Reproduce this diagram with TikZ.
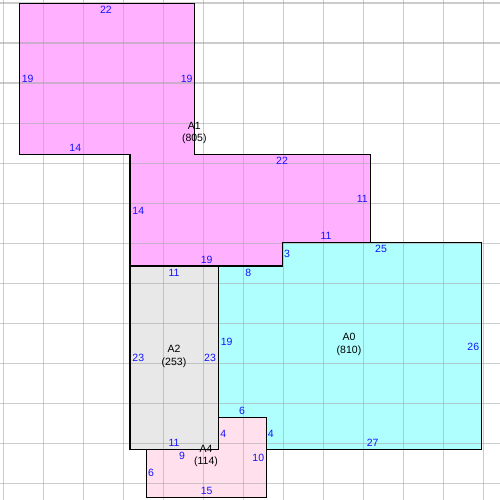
\documentclass[tikz,border=0pt]{standalone}
\usepackage{fontspec}
\setmainfont{Liberation Sans}
\definecolor{pinkA}{RGB}{255,176,255}
\definecolor{cyanA}{RGB}{176,255,255}
\definecolor{grayA}{RGB}{232,232,232}
\definecolor{roseA}{RGB}{255,224,236}
\definecolor{gridc}{RGB}{170,170,170}
\definecolor{lblc}{RGB}{20,20,255}
\tikzset{
  region/.style={draw=black, line width=1.3pt, line join=miter},
  gridline/.style={draw=gridc, opacity=0.6, line width=1.6pt},
  lenlbl/.style={text=lblc, font=\fontsize{10.5}{12}\selectfont, inner sep=0pt},
  arealbl/.style={text=black, font=\fontsize{10.5}{12.5}\selectfont, inner sep=0pt, align=center},
}
\begin{document}
\begin{tikzpicture}[x=1pt,y=-1pt]
\useasboundingbox (0,0) rectangle (500,500);
\fill[white] (0,0) rectangle (500,500);
% A1
\fill[pinkA] (19.3,3.3) -- (194.3,3.3) -- (194.3,154.3) -- (370.3,154.3) -- (370.3,242.7) -- (282.3,242.7) -- (282.3,266) -- (130,266) -- (130,154.3) -- (19.3,154.3) -- cycle;
% A0
\fill[cyanA] (282.3,242.7) -- (481.3,242.7) -- (481.3,449.3) -- (266.3,449.3) -- (266.3,417.3) -- (218.3,417.3) -- (218.3,266) -- (282.3,266) -- cycle;
% A2
\fill[grayA] (130,266) rectangle (218.3,449.3);
% A4
\fill[roseA] (146.7,449.3) -- (218.3,449.3) -- (218.3,417.3) -- (266.3,417.3) -- (266.3,497.3) -- (146.7,497.3) -- cycle;
% grid
\foreach \k in {0,...,12}{
  \path[gridline] (3.3+40*\k,0) -- (3.3+40*\k,500);
  \path[gridline] (0,3.3+40*\k) -- (500,3.3+40*\k);
}
% outlines
\draw[region] (19.3,3.3) -- (194.3,3.3) -- (194.3,154.3) -- (370.3,154.3) -- (370.3,242.7) -- (282.3,242.7) -- (282.3,266) -- (130,266) -- (130,154.3) -- (19.3,154.3) -- cycle;
\draw[region] (282.3,242.7) -- (481.3,242.7) -- (481.3,449.3) -- (266.3,449.3) -- (266.3,417.3) -- (218.3,417.3) -- (218.3,266) -- (282.3,266) -- cycle;
\draw[region] (130,266) rectangle (218.3,449.3);
\draw[region] (146.7,449.3) -- (218.3,449.3) -- (218.3,417.3) -- (266.3,417.3) -- (266.3,497.3) -- (146.7,497.3) -- cycle;
% A1 labels
\node[lenlbl] (a1t) at (106,10) {22};
\node[lenlbl] (a1l) at (27.7,79) {19};
\node[lenlbl] (a1r) at (186.7,79) {19};
\node[lenlbl] (a1s) at (75.3,148) {14};
\node[lenlbl] (a1v) at (138.3,211) {14};
\node[lenlbl] (a1m) at (282,161) {22};
\node[lenlbl] (a1e) at (362.3,199.3) {11};
\node[lenlbl] (a1b) at (326,236) {11};
\node[lenlbl] (a1c) at (206.7,260) {19};
\node[lenlbl] (a1d) at (287,254) {3};
\node[arealbl] (a1n) at (194.3,133) {A1\\(805)};
% A2 labels
\node[lenlbl] (a2t) at (174,273.3) {11};
\node[lenlbl] (a2l) at (138.3,358.3) {23};
\node[lenlbl] (a2r) at (210,358.3) {23};
\node[lenlbl] (a2b) at (174,442.7) {11};
\node[arealbl] (a2n) at (174,356.5) {A2\\(253)};
% A0 labels
\node[lenlbl] (a0a) at (248.3,273.3) {8};
\node[lenlbl] (a0t) at (381,249) {25};
\node[lenlbl] (a0l) at (226.7,342.3) {19};
\node[lenlbl] (a0s) at (242,411) {6};
\node[lenlbl] (a0v) at (270.7,434) {4};
\node[lenlbl] (a0b) at (372.7,442.7) {27};
\node[lenlbl] (a0r) at (473.3,346.7) {26};
\node[arealbl] (a0n) at (349,344.5) {A0\\(810)};
% A4 labels
\node[lenlbl] (a4v) at (223.3,434) {4};
\node[lenlbl] (a4t) at (182,455.7) {9};
\node[lenlbl] (a4l) at (151,472.7) {6};
\node[lenlbl] (a4b) at (206.7,490.7) {15};
\node[lenlbl] (a4r) at (258.3,458.3) {10};
\node[arealbl] (a4n) at (206,456) {A4\\(114)};
\end{tikzpicture}
\end{document}
